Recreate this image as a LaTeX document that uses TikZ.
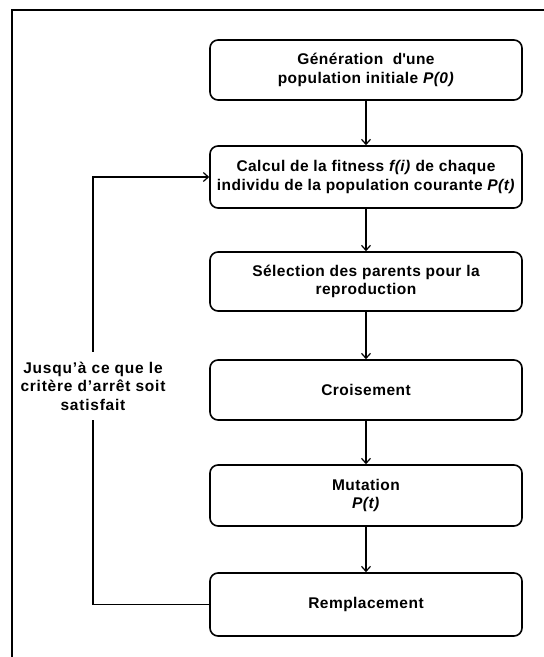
\documentclass[tikz,border=0pt]{standalone}
\usepackage{fontspec}
\setmainfont{Liberation Sans}[LetterSpace=3]
\usetikzlibrary{arrows.meta}
\begin{document}
\begin{tikzpicture}[x=1pt,y=-1pt,
  stepbox/.style={draw, line width=1.6pt, rounded corners=8pt,
    minimum width=312pt, align=center, inner sep=2pt,
    font=\fontsize{15.5}{18.5}\selectfont\bfseries},
  link/.style={line width=1.4pt, -{Straight Barb[length=5pt,width=9pt,line width=1.2pt]}},
  plain/.style={line width=1.4pt}]
\useasboundingbox (0,0) rectangle (544,657);
% outer frame (top and left edges)
\draw[line width=1.5pt] (12,657) -- (12,10) -- (544,10);

\node[stepbox, minimum height=60pt] (gen) at (366,70)
  {Génération\ \ d\textquotesingle une\\population initiale \textit{P(0)}};
\node[stepbox, minimum height=62pt] (fit) at (366,177)
  {Calcul de la fitness \textit{f(i)} de chaque\\individu de la population courante \textit{P(t)}};
\node[stepbox, minimum height=59pt] (sel) at (366,281.5)
  {Sélection des parents pour la\\reproduction};
\node[stepbox, minimum height=60pt] (cro) at (366,390)
  {Croisement};
\node[stepbox, minimum height=61pt] (mut) at (366,495.5)
  {Mutation\\\textit{P(t)}};
\node[stepbox, minimum height=63pt] (rem) at (366,604.5)
  {Remplacement};

\node[align=center, inner sep=0pt, minimum height=68pt,
  font=\fontsize{15.5}{18.5}\selectfont\bfseries\addfontfeature{LetterSpace=5}] (crit) at (93,386)
  {Jusqu’à ce que le\\critère d’arrêt soit\\satisfait};

\draw[link] (gen) -- (fit);
\draw[link] (fit) -- (sel);
\draw[link] (sel) -- (cro);
\draw[link] (cro) -- (mut);
\draw[link] (mut) -- (rem);

% loop back until the stopping criterion holds
\draw[plain] (rem.west) -| (crit.south);
\draw[link] (crit.north) |- (fit.west);
\end{tikzpicture}
\end{document}
